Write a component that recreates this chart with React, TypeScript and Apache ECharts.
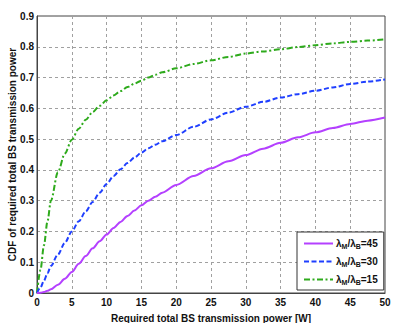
import React, { useEffect, useRef } from "react";
import * as echarts from "echarts";

const xValues = [0, 0.5, 1, 1.5, 2, 3, 4, 5, 6, 7, 8, 9, 10, 11, 12, 13, 14, 15, 16, 17, 18, 20, 22.5, 25, 27.5, 30, 32.5, 35, 37.5, 40, 42.5, 45, 47.5, 50];
const cdf45 = [0, 0.001, 0.003, 0.007, 0.012, 0.027, 0.046, 0.068, 0.095, 0.12, 0.145, 0.168, 0.19, 0.211, 0.231, 0.25, 0.268, 0.285, 0.3, 0.313, 0.326, 0.351, 0.38, 0.405, 0.428, 0.448, 0.469, 0.488, 0.506, 0.522, 0.536, 0.549, 0.56, 0.57];
const cdf30 = [0, 0.018, 0.04, 0.064, 0.088, 0.125, 0.163, 0.2, 0.233, 0.265, 0.296, 0.326, 0.354, 0.38, 0.402, 0.422, 0.44, 0.456, 0.47, 0.482, 0.493, 0.513, 0.54, 0.564, 0.586, 0.605, 0.621, 0.635, 0.646, 0.657, 0.668, 0.679, 0.687, 0.694];
const cdf15 = [0, 0.075, 0.155, 0.232, 0.3, 0.392, 0.453, 0.498, 0.534, 0.563, 0.588, 0.608, 0.626, 0.642, 0.656, 0.669, 0.68, 0.69, 0.7, 0.709, 0.717, 0.73, 0.744, 0.756, 0.767, 0.778, 0.785, 0.792, 0.799, 0.805, 0.811, 0.816, 0.82, 0.824];
const ratios = ["45", "30", "15"];
const colors = ["#b440ff", "#1f3fff", "#2eaa1c"];
const dashes: any[] = ["solid", [5, 2.5], [6, 2.5, 2, 2.5]];

const xTitle = "Required total BS transmission power [W]";
const yTitle = "CDF of required total BS transmission power";

const FONT = "'Liberation Sans', Arial, sans-serif";

export default function App() {
  const ref = useRef<HTMLDivElement>(null);
  useEffect(() => {
    const chart = echarts.init(ref.current!, undefined, { renderer: "svg" });
    const allData = [cdf45, cdf30, cdf15];
    chart.setOption({
      animation: false,
      backgroundColor: "#ffffff",
      grid: {
        left: 37,
        right: 19,
        top: 16,
        bottom: 30,
        containLabel: false,
        outerBoundsMode: "none",
        show: true,
        borderColor: "#444",
        borderWidth: 1,
        backgroundColor: "transparent",
      },
      xAxis: {
        type: "value",
        min: 0,
        max: 50,
        interval: 5,
        name: xTitle,
        nameLocation: "middle",
        nameGap: 20,
        nameMoveOverlap: false,
        nameTextStyle: { fontFamily: FONT, fontWeight: "bold", fontSize: 10, color: "#111" },
        axisLine: { show: true, lineStyle: { color: "#444", width: 1 } },
        axisTick: { show: false },
        axisLabel: { fontFamily: FONT, fontWeight: "bold", fontSize: 10, color: "#111", margin: 4 },
        splitLine: { show: true, lineStyle: { color: "#a0a0a0", type: [3, 3], width: 1 } },
      },
      yAxis: {
        type: "value",
        min: 0,
        max: 0.9,
        interval: 0.1,
        name: yTitle,
        nameLocation: "middle",
        nameGap: 20,
        nameMoveOverlap: false,
        nameTextStyle: { fontFamily: FONT, fontWeight: "bold", fontSize: 10, color: "#111" },
        axisLine: { show: true, lineStyle: { color: "#444", width: 1 } },
        axisTick: { show: false },
        axisLabel: {
          fontFamily: FONT,
          fontWeight: "bold",
          fontSize: 10,
          color: "#111",
          margin: 3,
          formatter: (v: number) => (Math.round(v * 10) / 10).toString(),
        },
        splitLine: { show: true, lineStyle: { color: "#a0a0a0", type: [3, 3], width: 1 } },
      },
      legend: {
        orient: "vertical",
        left: 297,
        top: 232,
        width: 87,
        padding: [5, 6, 4, 6],
        itemGap: 5,
        itemWidth: 29,
        itemHeight: 12,
        backgroundColor: "#ffffff",
        borderColor: "#333",
        borderWidth: 1,
        borderRadius: 0,
        itemStyle: { opacity: 0 },
        data: ratios.map((r) => ({ name: r })),
        formatter: (name: string) => `{l|λ}{s|M}{l|/λ}{s|B}{l|=${name}}`,
        textStyle: {
          fontFamily: FONT,
          fontWeight: "bold",
          fontSize: 10,
          color: "#111",
          padding: [0, 0, 0, -2],
          rich: {
            l: { fontFamily: FONT, fontWeight: "bold", fontSize: 10, color: "#111", lineHeight: 12 },
            s: { fontFamily: FONT, fontWeight: "bold", fontSize: 7, color: "#111", lineHeight: 12, padding: [6, 0, 0, 0] },
          },
        },
      },
      series: ratios.map((r, i) => ({
        name: r,
        type: "line",
        data: xValues.map((x, j) => [x, allData[i][j]]),
        showSymbol: false,
        symbol: "none",
        smooth: 0.3,
        smoothMonotone: "x",
        lineStyle: { color: colors[i], width: 2, type: dashes[i] },
        itemStyle: { color: colors[i] },
        z: 3 - i,
      })),
    });
    return () => chart.dispose();
  }, []);
  return <div ref={ref} style={{ position: "absolute", left: 0, top: 0, width: 404, height: 323 }} />;
}
